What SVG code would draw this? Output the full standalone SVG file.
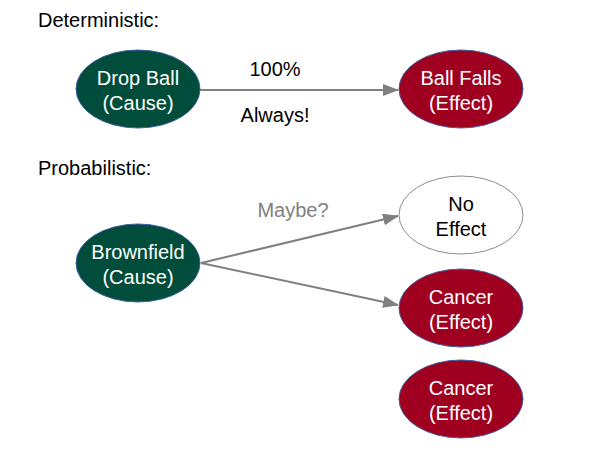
<svg xmlns="http://www.w3.org/2000/svg" width="600" height="450" viewBox="0 0 600 450">
<style>
text{font-family:"Liberation Sans",Arial,sans-serif;font-size:20px;}
.cause{fill:#004D3B;stroke:#3F5F9F;stroke-width:1;}
.effect{fill:#A0001F;stroke:#3F5F9F;stroke-width:1;}
.none{fill:#fff;stroke:#8C8C8C;stroke-width:1;}
.nl{fill:#fff;text-anchor:middle;}
.nd{fill:#000;text-anchor:middle;}
.hd{fill:#000;}
.el{fill:#000;text-anchor:middle;}
.gl{fill:#808080;text-anchor:middle;}
.edge{stroke:#808080;stroke-width:2;fill:none;marker-end:url(#ah);}
</style>
<defs>
<marker id="ah" markerWidth="16" markerHeight="12" refX="15" refY="6" orient="auto" markerUnits="userSpaceOnUse" viewBox="0 0 16 12">
<path d="M0,0 L16,6 L0,12 Z" fill="#808080"/>
</marker>
</defs>
<rect width="600" height="450" fill="#fff"/>
<text class="hd" x="38" y="27">Deterministic:</text>
<text class="hd" x="38" y="175">Probabilistic:</text>
<g id="connectors">
<line class="edge" x1="200" y1="90" x2="398" y2="90"/>
<line class="edge" x1="201" y1="263" x2="398" y2="216"/>
<line class="edge" x1="201" y1="263" x2="398" y2="305"/>
<text class="el" x="275" y="76">100%</text>
<text class="el" x="275" y="122">Always!</text>
<text class="gl" x="293" y="217">Maybe?</text>
</g>
<g id="dropball">
<ellipse class="cause" cx="138" cy="89" rx="62" ry="39"/>
<text class="nl" x="138" y="85">Drop Ball</text>
<text class="nl" x="138" y="110">(Cause)</text>
</g>
<g id="ballfalls">
<ellipse class="effect" cx="461" cy="89" rx="62" ry="39"/>
<text class="nl" x="461" y="85">Ball Falls</text>
<text class="nl" x="461" y="110">(Effect)</text>
</g>
<g id="brownfield">
<ellipse class="cause" cx="138" cy="263" rx="62" ry="39"/>
<text class="nl" x="138" y="259">Brownfield</text>
<text class="nl" x="138" y="284">(Cause)</text>
</g>
<g id="noeffect">
<ellipse class="none" cx="461" cy="215" rx="62" ry="39"/>
<text class="nd" x="461" y="211">No</text>
<text class="nd" x="461" y="236">Effect</text>
</g>
<g id="cancer1">
<ellipse class="effect" cx="461" cy="308" rx="62" ry="39"/>
<text class="nl" x="461" y="304">Cancer</text>
<text class="nl" x="461" y="329">(Effect)</text>
</g>
<g id="cancer2">
<ellipse class="effect" cx="461" cy="399" rx="62" ry="39"/>
<text class="nl" x="461" y="395">Cancer</text>
<text class="nl" x="461" y="420">(Effect)</text>
</g>
</svg>
